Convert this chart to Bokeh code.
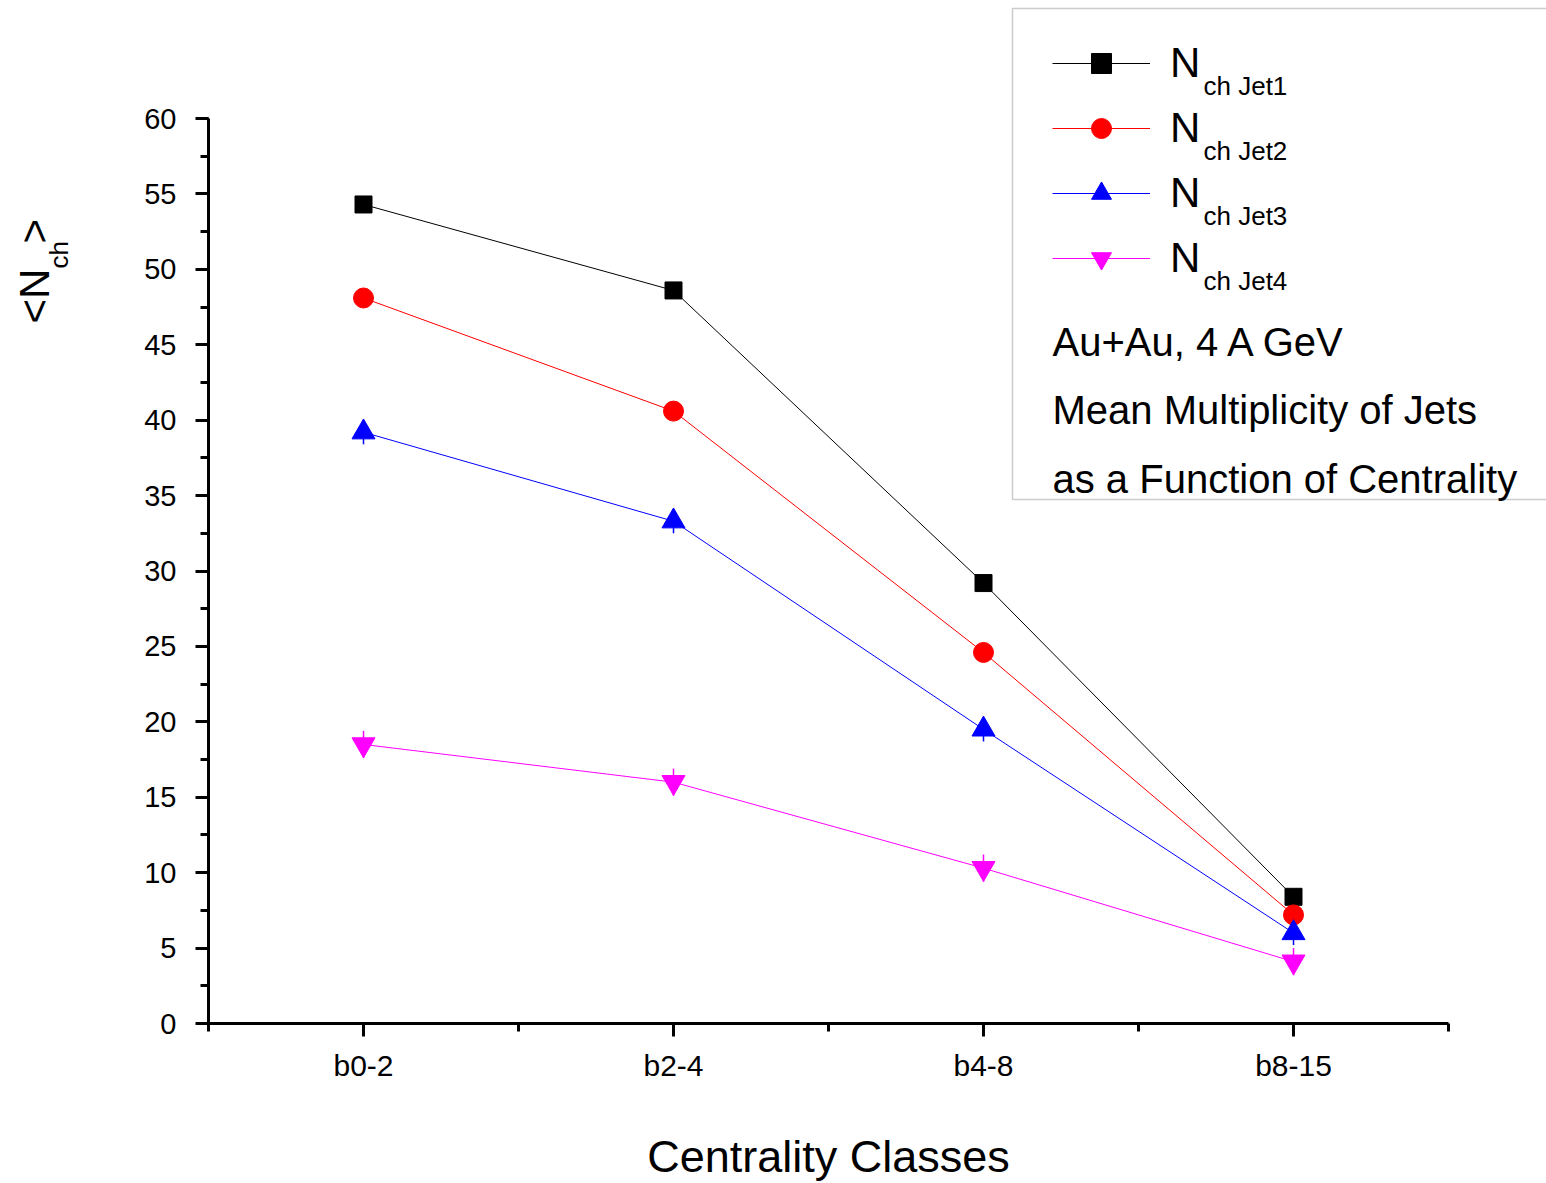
import math
from bokeh.plotting import figure
from bokeh.models import (Range1d, FixedTicker, SingleIntervalTicker, Label, Legend,
                          LegendItem, BoxAnnotation, Whisker, ColumnDataSource)
from bokeh.embed import file_html
from bokeh.resources import INLINE

# ---------------- data ----------------
categories = ["b0-2", "b2-4", "b4-8", "b8-15"]
jet1 = [54.3, 48.6, 29.2, 8.4]
jet2 = [48.1, 40.6, 24.6, 7.2]
jet3 = [39.2, 33.3, 19.5, 6.0]
jet4 = [18.5, 16.0, 10.3, 4.1]
jet3_err = [0.8, 0.8, 0.8, 0.8]
jet4_err = [0.9, 0.9, 0.9, 0.9]
series_names = ["Jet1", "Jet2", "Jet3", "Jet4"]
y_min, y_max = 0, 60
x_label = "Centrality Classes"
info_lines = ["Au+Au, 4 A GeV", "Mean Multiplicity of Jets", "as a Function of Centrality"]

xs = [i + 1 for i in range(len(categories))]
FONT = "Liberation Sans"

# ---------------- layout (canvas pixels) ----------------
W, H = 1546, 1183
AX_LEFT, AX_BOTTOM, AX_TOP = 208, 1023, 118     # pixel positions of the axes
PX_PER_CAT = 310.0
PX_PER_Y = (AX_BOTTOM - AX_TOP) / float(y_max - y_min)

x_lo = 0.5 - AX_LEFT / PX_PER_CAT
x_hi = 0.5 + (W - AX_LEFT) / PX_PER_CAT
y_hi = y_min + AX_BOTTOM / PX_PER_Y
y_lo = y_min - (H - AX_BOTTOM) / PX_PER_Y

def dx(px):
    return 0.5 + (px - AX_LEFT) / PX_PER_CAT

def dy(py):
    return y_min + (AX_BOTTOM - py) / PX_PER_Y

BASE_SHIFT = 0.34  # offset between Bokeh's label anchor and the visual baseline

p = figure(width=W, height=H, x_range=Range1d(x_lo, x_hi), y_range=Range1d(y_lo, y_hi),
           output_backend="svg", toolbar_location=None,
           min_border_left=0, min_border_right=0, min_border_top=0, min_border_bottom=0)
p.xgrid.visible = False
p.ygrid.visible = False
p.outline_line_color = None
p.background_fill_color = "white"
p.border_fill_color = "white"

# axes (drawn at fixed data locations, limited by bounds)
xa = p.xaxis[0]
xa.ticker = FixedTicker(ticks=xs, minor_ticks=[x - 0.5 for x in xs] + [xs[-1] + 0.5])
xa.major_label_overrides = {x: c for x, c in zip(xs, categories)}
xa.fixed_location = y_min
xa.bounds = (0.5, len(categories) + 0.5)
ya = p.yaxis[0]
ya.ticker = SingleIntervalTicker(interval=5, num_minor_ticks=2)
ya.fixed_location = 0.5
ya.bounds = (y_min, y_max)
for ax in (xa, ya):
    ax.axis_line_width = 3
    ax.axis_line_color = "black"
    ax.major_tick_line_width = 3
    ax.major_tick_line_color = "black"
    ax.major_tick_in = 0
    ax.major_tick_out = 13
    ax.minor_tick_line_width = 3
    ax.minor_tick_line_color = "black"
    ax.minor_tick_in = 0
    ax.minor_tick_out = 8
    ax.major_label_text_font = FONT
    ax.major_label_text_color = "black"
ya.major_label_text_font_size = "29px"
xa.major_label_text_font_size = "30px"
ya.major_label_standoff = 19
xa.major_label_standoff = 12

# series
colors = ["black", "#FF0000", "#0000FF", "#FF00FF"]
markers = ["square", "circle", "triangle", "inverted_triangle"]
sizes = [17, 20, 23, 23]
values = [jet1, jet2, jet3, jet4]
errs = [None, None, jet3_err, jet4_err]

items = []
for name, vals, col, mk, sz, er in zip(series_names, values, colors, markers, sizes, errs):
    src = ColumnDataSource(dict(x=xs, y=vals))
    if er is not None:
        esrc = ColumnDataSource(dict(x=xs, upper=[v + e for v, e in zip(vals, er)],
                                     lower=[v - e for v, e in zip(vals, er)]))
        p.add_layout(Whisker(base="x", upper="upper", lower="lower", source=esrc,
                             line_color=col, line_width=1.5,
                             upper_head=None, lower_head=None))
    lr = p.line("x", "y", source=src, line_color=col, line_width=1)
    sr = p.scatter("x", "y", source=src, marker=mk, size=sz, fill_color=col,
                   line_color=col)
    items.append(LegendItem(label="N", renderers=[lr, sr]))

# legend box
p.add_layout(BoxAnnotation(left=dx(1012), right=dx(1700), top=dy(8), bottom=dy(499),
                           fill_alpha=0, line_color="#555555", line_width=1.5))

# legend: rows centred at 63 + 65k, glyph from x=1052
legend = Legend(items=items, location=(1052, H - (38 + 4 * 50 + 3 * 15)),
                orientation="vertical",
                glyph_width=98, glyph_height=50, label_height=50, label_standoff=20,
                spacing=15, padding=0, margin=0, border_line_color=None,
                background_fill_alpha=0, label_text_font=FONT,
                label_text_font_size="42px", label_text_color="black")
p.add_layout(legend)

def text(px, py, t, size, align="left", angle=0.0):
    # (px, py): visual baseline start in canvas pixels
    sh = BASE_SHIFT * size
    if angle:
        x, y = dx(px - sh), dy(py)
    else:
        x, y = dx(px), dy(py - sh)
    p.add_layout(Label(x=x, y=y, text=t, text_font=FONT, text_font_size=f"{size}px",
                       text_color="black", angle=angle, text_baseline="alphabetic",
                       text_align=align))

# subscripts of legend labels
for k, name in enumerate(series_names):
    text(1203, 94 + 65 * k, "ch " + name, 26)

# info text
for k, t in enumerate(info_lines):
    text(1052, 355 + 68.5 * k, t, 40)

# x axis title
text(828, 1171, x_label, 45, align="center")

# y axis title <N_ch>
text(48, 323, "<N", 42, angle=math.pi / 2)
text(67, 268, "ch", 26, angle=math.pi / 2)
text(48, 243, ">", 42, angle=math.pi / 2)

open("out.html", "w").write(file_html(p, INLINE))
